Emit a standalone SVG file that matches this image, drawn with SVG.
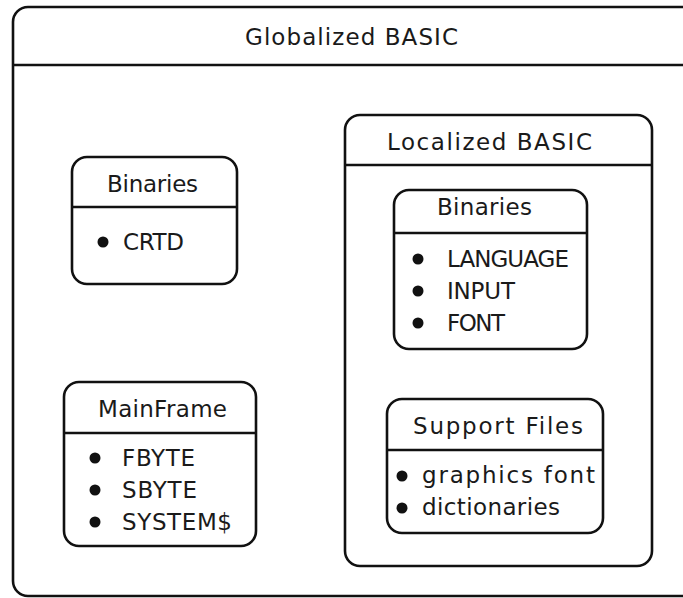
<svg xmlns="http://www.w3.org/2000/svg" width="683" height="598" viewBox="0 0 683 598">
<style>
.box{fill:none;stroke:#111;stroke-width:2.6}
.ln{stroke:#111;stroke-width:2.6}
.t{font-family:"DejaVu Sans","Liberation Sans",sans-serif;font-size:23px;fill:#1a1a1a}
.b{fill:#111}
</style>
<rect width="683" height="598" fill="#fff"/>
<g id="globalized">
<rect class="box" x="13" y="7" width="690" height="589" rx="15"/>
<line class="ln" x1="13" y1="65" x2="683" y2="65"/>
<text class="t" x="245" y="45" textLength="213">Globalized  BASIC</text>
</g>
<g id="binaries-global">
<rect class="box" x="72" y="157" width="165" height="127" rx="15"/>
<line class="ln" x1="72" y1="207" x2="237" y2="207"/>
<text class="t" x="107" y="192" textLength="91">Binaries</text>
<circle class="b" cx="103" cy="242" r="5.5"/>
<text class="t" x="123" y="250" textLength="61">CRTD</text>
</g>
<g id="mainframe">
<rect class="box" x="64" y="382" width="192" height="164" rx="15"/>
<line class="ln" x1="64" y1="433" x2="256" y2="433"/>
<text class="t" x="98" y="417" textLength="129">MainFrame</text>
<circle class="b" cx="95" cy="458" r="5.5"/>
<text class="t" x="122" y="466" textLength="73">FBYTE</text>
<circle class="b" cx="95" cy="490" r="5.5"/>
<text class="t" x="122" y="498" textLength="75">SBYTE</text>
<circle class="b" cx="95" cy="522" r="5.5"/>
<text class="t" x="122" y="530" textLength="110">SYSTEM$</text>
</g>
<g id="localized">
<rect class="box" x="345" y="115" width="307" height="451" rx="15"/>
<line class="ln" x1="345" y1="165" x2="652" y2="165"/>
<text class="t" x="387" y="150" textLength="205">Localized  BASIC</text>
</g>
<g id="binaries-local">
<rect class="box" x="394" y="190" width="193" height="159" rx="15"/>
<line class="ln" x1="394" y1="233" x2="587" y2="233"/>
<text class="t" x="437" y="215" textLength="95">Binaries</text>
<circle class="b" cx="418" cy="259" r="5.5"/>
<text class="t" x="447" y="267" textLength="122">LANGUAGE</text>
<circle class="b" cx="418" cy="291" r="5.5"/>
<text class="t" x="447" y="299" textLength="68">INPUT</text>
<circle class="b" cx="418" cy="323" r="5.5"/>
<text class="t" x="447" y="331" textLength="58">FONT</text>
</g>
<g id="support-files">
<rect class="box" x="387" y="399" width="216" height="134" rx="15"/>
<line class="ln" x1="387" y1="450" x2="603" y2="450"/>
<text class="t" x="413" y="434" textLength="170">Support  Files</text>
<circle class="b" cx="402" cy="476" r="5.5"/>
<text class="t" x="422" y="483" textLength="173">graphics  font</text>
<circle class="b" cx="402" cy="508" r="5.5"/>
<text class="t" x="422" y="515" textLength="138">dictionaries</text>
</g>
</svg>
